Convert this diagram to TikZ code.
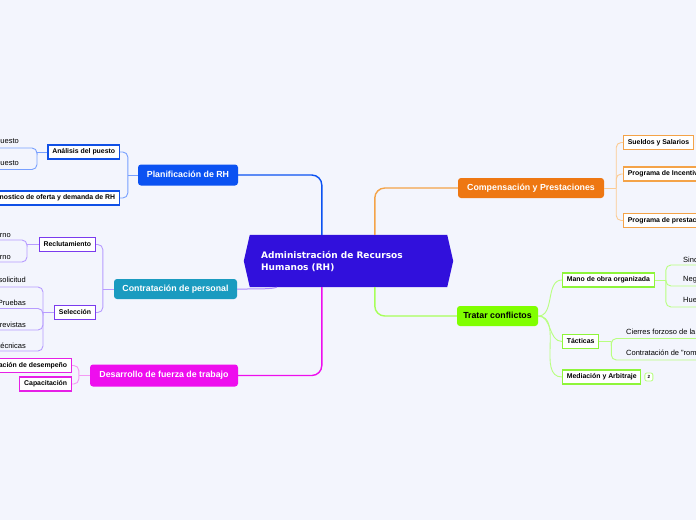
\documentclass[tikz,border=0pt]{standalone}
\usepackage{fontspec}
\setmainfont{Liberation Sans}
\newfontfamily\rootfont{DejaVu Sans}
\usetikzlibrary{calc}
\definecolor{bg}{HTML}{F3F5FD}
\definecolor{rootc}{HTML}{3110DC}
\definecolor{blueM}{HTML}{0B52F2}
\definecolor{blueB}{HTML}{1050E6}
\definecolor{blueL}{HTML}{78A0FF}
\definecolor{tealM}{HTML}{1A9BC0}
\definecolor{purB}{HTML}{7A3BEE}
\definecolor{purL}{HTML}{B79CFF}
\definecolor{magM}{HTML}{EE0EEE}
\definecolor{magB}{HTML}{E620E6}
\definecolor{magL}{HTML}{F49AF4}
\definecolor{oraM}{HTML}{EE7712}
\definecolor{oraB}{HTML}{F4A348}
\definecolor{oraL}{HTML}{FCCB93}
\definecolor{greM}{HTML}{80FF00}
\definecolor{greB}{HTML}{8EF53A}
\definecolor{greL}{HTML}{B8FF80}
\tikzset{
  mainbox/.style={rounded corners=3pt, minimum height=21pt, inner xsep=0pt, inner ysep=0pt,
    text height=6.4pt, text depth=1.8pt,
    font=\fontsize{8.8}{10}\selectfont\bfseries, text=white},
  subbox/.style={draw, line width=1.1pt, fill=white, minimum height=14pt, inner xsep=4.3pt,
    inner ysep=0pt, text height=5.2pt, text depth=1.5pt,
    font=\fontsize{6.9}{8}\selectfont\bfseries, text=black},
  leafL/.style={anchor=south east, inner xsep=1pt, inner ysep=2.5pt, font=\fontsize{7.5}{9}\selectfont},
  leafR/.style={anchor=south west, inner xsep=1pt, inner ysep=2.5pt, font=\fontsize{7.5}{9}\selectfont},
  mainconn/.style={line width=1.4pt, rounded corners=10pt},
  subconn/.style={line width=0.9pt, rounded corners=5pt},
}
\begin{document}
\begin{tikzpicture}[x=1pt,y=-1pt]
\useasboundingbox (0,0) rectangle (696,520);
\clip (0,0) rectangle (696,520);
\fill[bg] (0,0) rectangle (696,520);

% root
\node[minimum width=209pt, minimum height=52pt, inner sep=0pt] (root) at (348.5,261) {};
\fill[rootc] ([xshift=6pt]root.north west) -- ([xshift=-6pt]root.north east) -- (root.east)
  -- ([xshift=-6pt]root.south east) -- ([xshift=6pt]root.south west) -- (root.west) -- cycle;
\node[anchor=west, align=left, text=white, inner sep=0pt,
  font=\rootfont\bfseries\fontsize{9}{11.5}\selectfont] (roottext) at (261,261.5)
  {Administración de Recursos\\Humanos (RH)};

% main branches
\node[mainbox, fill=blueM, minimum width=100pt] (plan) at (188,175) {Planificación de RH};
\node[mainbox, fill=tealM, minimum width=123pt, minimum height=20pt] (contr) at (175.5,289) {Contratación de personal};
\node[mainbox, fill=magM, minimum width=148pt, minimum height=22pt] (des) at (164,375.5) {Desarrollo de fuerza de trabajo};
\node[mainbox, fill=oraM, minimum width=146pt, minimum height=20pt] (comp) at (531,188) {Compensación y Prestaciones};
\node[mainbox, fill=greM, minimum width=81pt, minimum height=20pt, text=black] (trat) at (497.5,316) {Tratar conflictos};

% main connectors
\draw[mainconn, blueM] (plan.east) -| ([xshift=78pt]root.north west);
\draw[mainconn, oraB] (comp.west) -| ([xshift=131pt]root.north west);
\draw[mainconn, magM] (des.east) -| ([xshift=78pt]root.south west);
\draw[mainconn, greL!70!greM] (trat.west) -| ([xshift=131pt]root.south west);
\draw[line width=1pt, purL!80!purB] (contr.east) .. controls (262,289) and (272,289) .. ([xshift=33pt]root.south west);

% sub boxes left
\node[subbox, draw=blueB, anchor=east] (ana) at (120,152) {Análisis del puesto};
\node[subbox, draw=blueB, anchor=east] (diag) at (120,198) {Diagnostico de oferta y demanda de RH};
\node[subbox, draw=purB, anchor=east] (recl) at (96,244.5) {Reclutamiento};
\node[subbox, draw=purB, anchor=east] (sel) at (96,312.5) {Selección};
\node[subbox, draw=magB, anchor=east] (eval) at (72,365.5) {Evaluación de desempeño};
\node[subbox, draw=magB, anchor=east] (cap) at (72,384) {Capacitación};

% sub boxes right
\node[subbox, draw=oraB, anchor=west] (sue) at (623,142.5) {Sueldos y Salarios};
\node[subbox, draw=oraB, anchor=west] (inc) at (623,174) {Programa de Incentivos};
\node[subbox, draw=oraB, anchor=west] (pre) at (623,220.5) {Programa de prestaciones};
\node[subbox, draw=greB, anchor=west] (mano) at (562,280) {Mano de obra organizada};
\node[subbox, draw=greB, anchor=west] (tac) at (562,341.5) {Tácticas};
\node[subbox, draw=greB, anchor=west] (med) at (562,377) {Mediación y Arbitraje};
\node[draw=greL, line width=0.8pt, fill=white, rounded corners=2pt, anchor=west, minimum width=8pt,
  minimum height=8pt, inner sep=0pt, font=\fontsize{4.5}{5}\selectfont\bfseries] (badge) at ([xshift=3pt]med.east) {2};

% junction coordinates
\coordinate (pj) at ([xshift=-10pt]plan.west);
\coordinate (rj) at ([xshift=-11pt]contr.west);
\coordinate (dj) at ([xshift=-11pt]des.west);
\coordinate (cj) at ([xshift=12pt]comp.east);
\coordinate (aj) at (37,152);
\coordinate (rlj) at (27,244.5);
\coordinate (slj) at (43,312.5);
\coordinate (mj) at ([xshift=11pt]mano.east);
\coordinate (tj) at ([xshift=12pt]tac.east);

% sub connectors
\draw[subconn, blueL] (plan.west) -- (pj);
\draw[subconn, blueL] (pj) |- (ana.east);
\draw[subconn, blueL] (pj) |- (diag.east);
\draw[subconn, purL] (contr.west) -- (rj);
\draw[subconn, purL] (rj) |- (recl.east);
\draw[subconn, purL] (rj) |- (sel.east);
\draw[subconn, magL] (des.west) -- (dj);
\draw[subconn, magL] (dj) |- (eval.east);
\draw[subconn, magL] (dj) |- (cap.east);
\draw[subconn, oraL] (comp.east) -- (cj);
\draw[subconn, oraL] (cj) |- (sue.west);
\draw[subconn, oraL] (cj) |- (inc.west);
\draw[subconn, oraL] (cj) |- (pre.west);
\draw[line width=0.9pt, greL] (trat.east) to[out=0,in=180] (mano.west);
\draw[line width=0.9pt, greL] (trat.east) to[out=0,in=180] (tac.west);
\draw[line width=0.9pt, greL] (trat.east) to[out=0,in=180] (med.west);

% leaves left
\node[leafL] (a1) at (20,148) {Descripción del puesto};
\node[leafL] (a2) at (20,169.5) {Especificación del puesto};
\node[leafL] (r1) at (12,240) {Interno};
\node[leafL] (r2) at (12,262) {Externo};
\node[leafL] (s1) at (27,287) {Hoja de solicitud};
\node[leafL] (s2) at (27,308.5) {Pruebas};
\node[leafL] (s3) at (27,330) {Entrevistas};
\node[leafL] (s4) at (27,351) {Pruebas técnicas};
% leaves right
\node[leafR] (m1) at (682,265) {Sindicatos};
\node[leafR] (m2) at (682,286) {Negociación colectiva};
\node[leafR] (m3) at (682,307) {Huelgas};
\node[leafR] (t1) at (625,338.5) {Cierres forzoso de la empresa};
\node[leafR] (t2) at (625,360) {Contratación de "rompehuelgas"};

% leaf connectors
\draw[subconn, blueL] (ana.west) -- (aj);
\draw[subconn, blueL] (aj) |- (a1.south east) -- (a1.south west);
\draw[subconn, blueL] (aj) |- (a2.south east) -- (a2.south west);
\draw[subconn, purL] (recl.west) -- (rlj);
\draw[subconn, purL] (rlj) |- (r1.south east) -- (r1.south west);
\draw[subconn, purL] (rlj) |- (r2.south east) -- (r2.south west);
\draw[subconn, purL] (sel.west) -- (slj);
\draw[subconn, purL] (slj) |- (s1.south east) -- (s1.south west);
\draw[subconn, purL] (slj) |- (s2.south east) -- (s2.south west);
\draw[subconn, purL] (slj) |- (s3.south east) -- (s3.south west);
\draw[subconn, purL] (slj) |- (s4.south east) -- (s4.south west);
\draw[subconn, greL] (mano.east) -- (mj);
\draw[subconn, greL] (mj) |- (m1.south west) -- (m1.south east);
\draw[subconn, greL] (mj) |- (m2.south west) -- (m2.south east);
\draw[subconn, greL] (mj) |- (m3.south west) -- (m3.south east);
\draw[subconn, greL] (tac.east) -- (tj);
\draw[subconn, greL] (tj) |- (t1.south west) -- (t1.south east);
\draw[subconn, greL] (tj) |- (t2.south west) -- (t2.south east);
\end{tikzpicture}
\end{document}
